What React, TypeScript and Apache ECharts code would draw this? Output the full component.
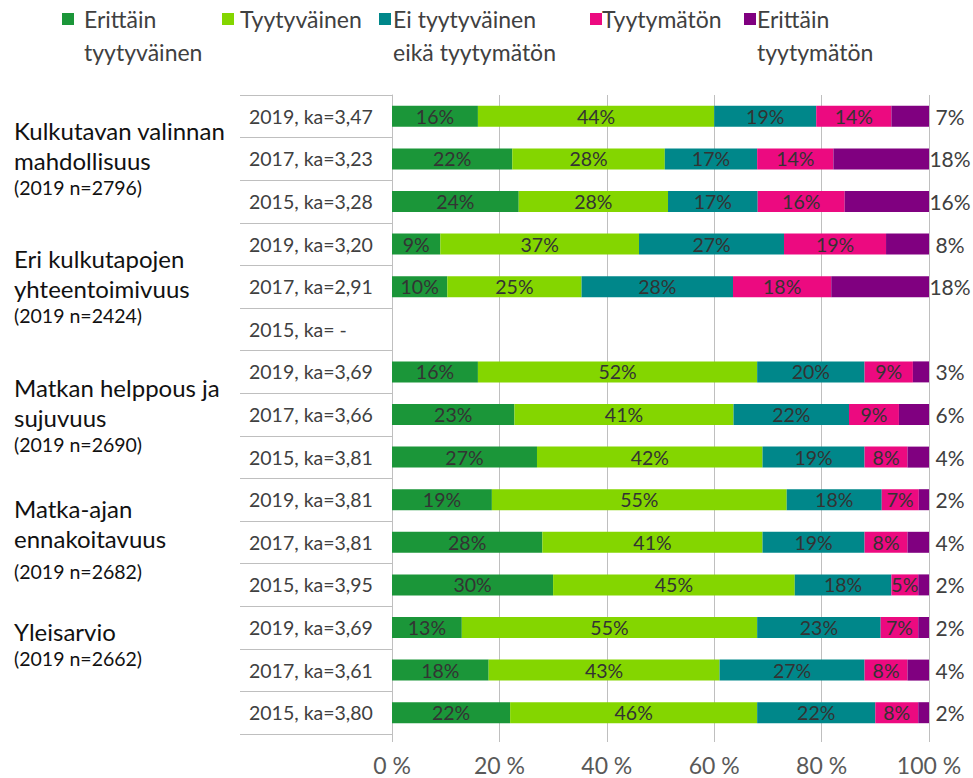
import React, { useEffect, useRef } from "react";
import * as echarts from "echarts";

const categories = [
  "2019, ka=3,47", "2017, ka=3,23", "2015, ka=3,28",
  "2019, ka=3,20", "2017, ka=2,91", "2015, ka= -",
  "2019, ka=3,69", "2017, ka=3,66", "2015, ka=3,81",
  "2019, ka=3,81", "2017, ka=3,81", "2015, ka=3,95",
  "2019, ka=3,69", "2017, ka=3,61", "2015, ka=3,80",
];

const erittainTyytyvainen = [16, 22.4, 23.6, 9, 10.3, null, 16, 22.8, 27, 18.6, 28, 30, 13, 18, 22];
const tyytyvainen = [44, 28.4, 27.8, 37, 25.0, null, 52, 40.8, 42, 54.9, 41, 45, 55, 43, 46];
const eiTyytyvainenEikaTyytymaton = [19, 17.2, 16.7, 27, 28.2, null, 20, 21.5, 19, 17.7, 19, 18, 23, 27, 22];
const tyytymaton = [14, 14.2, 16.2, 19, 18.3, null, 9, 9.3, 8, 6.9, 8, 5, 7, 8, 8];
const erittainTyytymaton = [7, 17.8, 15.7, 8, 18.2, null, 3, 5.6, 4, 1.9, 4, 2, 2, 4, 2];

const seriesNames = [
  "Erittäin tyytyväinen",
  "Tyytyväinen",
  "Ei tyytyväinen eikä tyytymätön",
  "Tyytymätön",
  "Erittäin tyytymätön",
];
const legendLines = [
  ["Erittäin", "tyytyväinen"],
  ["Tyytyväinen"],
  ["Ei tyytyväinen", "eikä tyytymätön"],
  ["Tyytymätön"],
  ["Erittäin", "tyytymätön"],
];
const colors = ["#1B9639", "#84D600", "#00878A", "#EC0A80", "#800080"];

const groupTitles = [
  ["Kulkutavan valinnan", "mahdollisuus"],
  ["Eri kulkutapojen", "yhteentoimivuus"],
  ["Matkan helppous ja", "sujuvuus"],
  ["Matka-ajan", "ennakoitavuus"],
  ["Yleisarvio"],
];
const groupNotes = ["(2019 n=2796)", "(2019 n=2424)", "(2019 n=2690)", "(2019 n=2682)", "(2019 n=2662)"];

const FONT = "Lato, 'Open Sans', sans-serif";

export default function App() {
  const ref = useRef<HTMLDivElement>(null);
  useEffect(() => {
    if (!ref.current) return;
    const chart = echarts.init(ref.current, null, { renderer: "svg" });
    const dataSets = [erittainTyytyvainen, tyytyvainen, eiTyytyvainenEikaTyytymaton, tyytymaton, erittainTyytymaton];

    const graphics: any[] = [];
    const legendIconX = [62, 222, 379, 590, 744];
    const legendTextX = [84, 240, 393, 602, 757];
    legendLines.forEach((lines, i) => {
      graphics.push({
        type: "rect",
        shape: { x: legendIconX[i], y: 13, width: 12, height: 12 },
        style: { fill: colors[i] },
      });
      lines.forEach((ln, j) => {
        graphics.push({
          type: "text",
          x: legendTextX[i],
          y: 19 + j * 33,
          style: { text: ln, font: `23px ${FONT}`, fill: "#404040", verticalAlign: "middle", align: "left" },
        });
      });
    });

    const groupTop = [130, 258, 387, 508, 631];
    const noteGap = [0, 0, 0, 6, 0];
    groupTitles.forEach((lines, g) => {
      lines.forEach((ln, j) => {
        graphics.push({
          type: "text",
          x: 14,
          y: groupTop[g] + j * 30,
          style: { text: ln, font: `24px ${FONT}`, fill: "#111", verticalAlign: "middle" },
        });
      });
      graphics.push({
        type: "text",
        x: 14,
        y: groupTop[g] + lines.length * 30 - 3 + noteGap[g],
        style: { text: groupNotes[g], font: `19.5px ${FONT}`, fill: "#111", verticalAlign: "middle" },
      });
    });

    const series = dataSets.map((d, i) => ({
      name: seriesNames[i],
      type: "bar",
      stack: "total",
      barWidth: 21,
      data: d,
      itemStyle: { color: colors[i] },
      label:
        i < 4
          ? {
              show: true,
              position: "inside",
              color: "#333",
              fontSize: 19.5,
              fontFamily: FONT,
              formatter: (p: any) => (p.value == null ? "" : Math.round(p.value) + "%"),
            }
          : {
              show: true,
              position: "right",
              distance: 21,
              align: "center",
              color: "#404040",
              fontSize: 21,
              fontFamily: FONT,
              formatter: (p: any) => (p.value == null ? "" : Math.round(p.value) + "%"),
            },
    }));

    chart.setOption({
      animation: false,
      backgroundColor: "#fff",
      textStyle: { fontFamily: FONT },
      grid: { left: 392, right: 44, top: 95, bottom: 44 },
      legend: { show: false, data: seriesNames },
      xAxis: {
        type: "value",
        min: 0,
        max: 100,
        interval: 20,
        axisLine: { show: false },
        axisTick: { show: true, length: 8, lineStyle: { color: "#BFBFBF" } },
        splitLine: { show: true, lineStyle: { color: "#BFBFBF" } },
        axisLabel: { formatter: "{value} %", fontSize: 23, color: "#595959", margin: 19, fontFamily: FONT },
      },
      yAxis: {
        type: "category",
        inverse: true,
        data: categories,
        axisLine: { show: true, lineStyle: { color: "#BFBFBF" } },
        axisTick: { show: true, length: 152, lineStyle: { color: "#BFBFBF" } },
        axisLabel: { align: "left", margin: 143, fontSize: 19.5, color: "#404040", fontFamily: FONT },
      },
      graphic: graphics,
      series,
    });
    return () => chart.dispose();
  }, []);
  return <div ref={ref} style={{ position: "fixed", left: 0, top: 0, width: 973, height: 778 }} />;
}
